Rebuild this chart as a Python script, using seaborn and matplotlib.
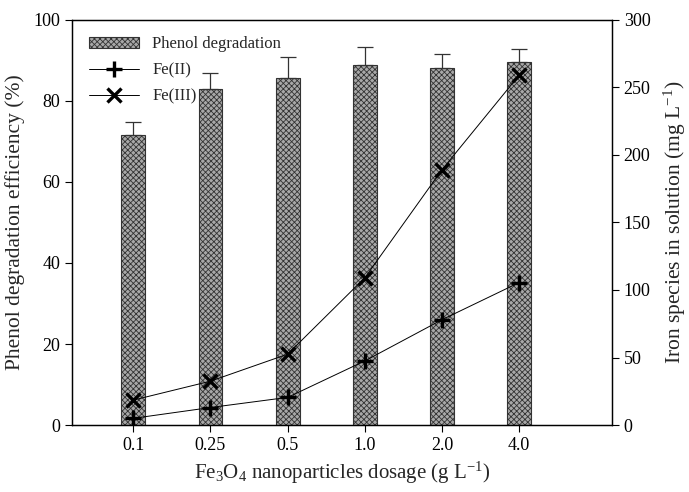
import numpy as np
import pandas as pd
import matplotlib
matplotlib.use('Agg')
import matplotlib.pyplot as plt
import seaborn as sns

# Daten
dosage = ['0.1', '0.25', '0.5', '1.0', '2.0', '4.0']
phenol = [71.5, 83.0, 85.6, 88.9, 88.1, 89.6]
phenol_err = [3.2, 3.8, 5.2, 4.4, 3.5, 3.1]
fe2 = [5, 13, 20.5, 47.5, 78, 105.5]
fe3 = [18.5, 32.5, 52.5, 109, 189, 259]

sns.set_style('ticks')
plt.rcParams['font.family'] = ['Liberation Serif', 'DejaVu Serif']
plt.rcParams['mathtext.fontset'] = 'custom'
plt.rcParams['mathtext.rm'] = 'Liberation Serif'
plt.rcParams['mathtext.it'] = 'Liberation Serif:italic'
plt.rcParams['hatch.color'] = '#2a2a2a'
plt.rcParams['hatch.linewidth'] = 0.6

df = pd.DataFrame({'dosage': dosage, 'phenol': phenol})
pos = np.arange(len(dosage))

fig, ax = plt.subplots(figsize=(6.89, 4.92), dpi=100)
sns.barplot(data=df, x='dosage', y='phenol', ax=ax, color='#a8a8a8',
            width=0.31, edgecolor='#333333', linewidth=0.8, saturation=1,
            label='Phenol degradation')
for p in ax.patches:
    p.set_hatch('xxxxxx')
ax.errorbar(pos, phenol, yerr=[np.zeros(len(phenol)), phenol_err], fmt='none',
            ecolor='#333333', elinewidth=0.9, capsize=6, capthick=0.9)

ax2 = ax.twinx()
d2 = pd.DataFrame({'pos': pos, 'fe2': fe2, 'fe3': fe3})
sns.lineplot(data=d2, x='pos', y='fe2', ax=ax2, color='black', lw=0.7,
             marker='+', markersize=12, markeredgewidth=2.4,
             markeredgecolor='black', label='Fe(II)')
sns.lineplot(data=d2, x='pos', y='fe3', ax=ax2, color='black', lw=0.7,
             marker='x', markersize=10, markeredgewidth=2.4,
             markeredgecolor='black', label='Fe(III)')

ax.set_xlim(-0.79, 6.2)
ax.set_ylim(0, 100)
ax2.set_ylim(0, 300)
ax.set_yticks([0, 20, 40, 60, 80, 100])
ax2.set_yticks([0, 50, 100, 150, 200, 250, 300])
ax.set_xlabel(r'Fe$\mathregular{_3}$O$\mathregular{_4}$ nanoparticles dosage (g L$\mathregular{^{-1}}$)',
              fontsize=15, labelpad=4)
ax.set_ylabel('Phenol degradation efficiency (%)', fontsize=15.5, labelpad=6)
ax2.set_ylabel(r'Iron species in solution (mg L$\mathregular{^{-1}}$)', fontsize=15.5, labelpad=8)

for a in (ax, ax2):
    a.tick_params(direction='out', length=5, width=0.8, labelsize=13, colors='black')
    for s in a.spines.values():
        s.set_visible(True)
        s.set_linewidth(0.9)
        s.set_color('black')

h1, l1 = ax.get_legend_handles_labels()
h2, l2 = ax2.get_legend_handles_labels()
if ax2.get_legend():
    ax2.get_legend().remove()
if ax.get_legend():
    ax.get_legend().remove()
ax2.legend(h1 + h2, l1 + l2, loc='upper left', frameon=False, fontsize=12,
           handlelength=3, borderaxespad=0.6, labelspacing=0.6)

fig.subplots_adjust(left=0.105, right=0.888, top=0.96, bottom=0.136)
fig.savefig('out.png', dpi=100)
